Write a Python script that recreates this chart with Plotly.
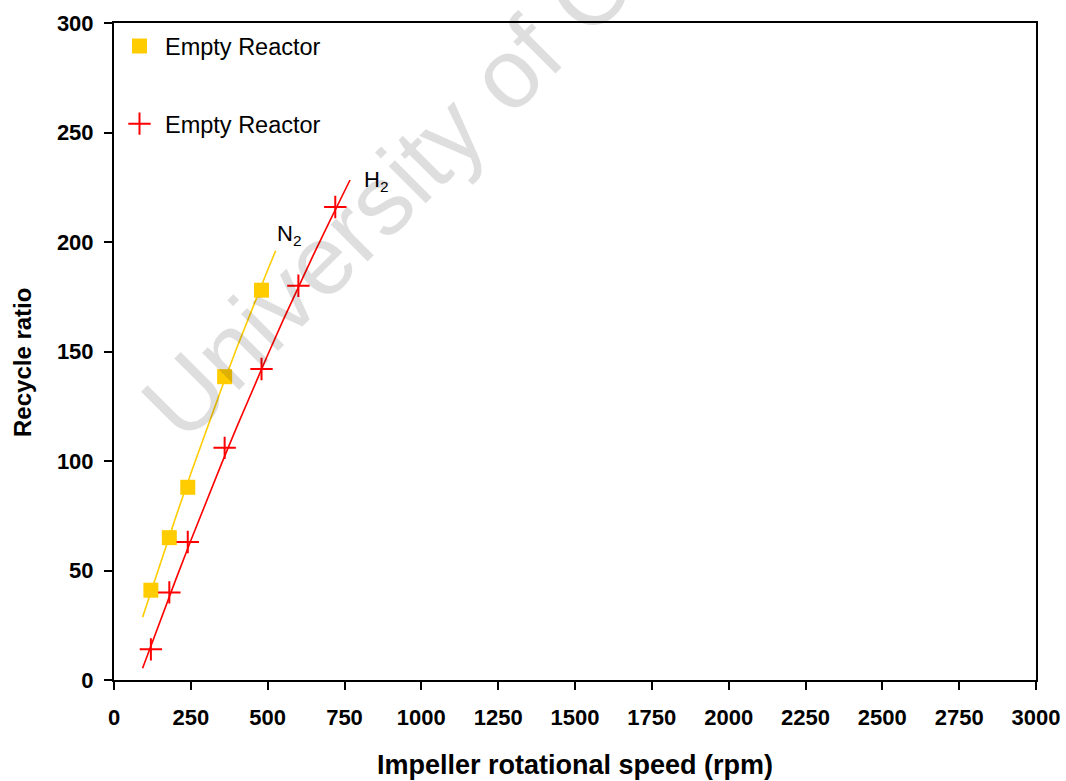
import plotly.graph_objects as go

# ---- data ----
n2_speed = [120, 180, 240, 360, 480]
n2_ratio = [41, 65, 88, 138.5, 178]

h2_speed = [120, 180, 240, 360, 480, 600, 720]
h2_ratio = [14, 40, 63, 106, 142, 180, 216]

# trend lines as drawn in the reference
n2_trend_x = [93, 150, 200, 250, 300, 350, 400, 450, 500, 526]
n2_trend_y = [28.6, 53.1, 74.0, 94.3, 114.0, 133.2, 151.8, 169.8, 187.2, 196.0]

h2_trend_x = [93, 150, 200, 250, 300, 350, 400, 450, 500, 550, 600, 650, 700, 768]
h2_trend_y = [5.4, 27.0, 45.5, 63.7, 81.4, 98.8, 115.7, 132.2, 148.4, 164.2, 179.5, 194.5, 209.0, 228.3]

x_ticks = list(range(0, 3001, 250))
y_ticks = list(range(0, 301, 50))

YELLOW = "#FFCC00"
RED = "#FF0000"
FONT = "Liberation Sans, Arial, sans-serif"

fig = go.Figure()

fig.add_trace(go.Scatter(x=n2_trend_x, y=n2_trend_y, mode="lines",
                         line=dict(color=YELLOW, width=1.6), showlegend=False, hoverinfo="skip"))
fig.add_trace(go.Scatter(x=h2_trend_x, y=h2_trend_y, mode="lines",
                         line=dict(color=RED, width=1.6), showlegend=False, hoverinfo="skip"))

fig.add_trace(go.Scatter(x=n2_speed, y=n2_ratio, mode="markers", name="Empty Reactor",
                         legendgroup="n2",
                         marker=dict(symbol="square", size=15, color=YELLOW)))
fig.add_trace(go.Scatter(x=h2_speed, y=h2_ratio, mode="markers", name="Empty Reactor",
                         legendgroup="h2",
                         marker=dict(symbol="cross-thin", size=16, color=RED,
                                     line=dict(color=RED, width=2))))

# watermark
fig.add_annotation(text="University of Cape Town", xref="paper", yref="paper",
                   x=0.4572, y=0.9679, xanchor="center", yanchor="middle",
                   textangle=-45, showarrow=False,
                   font=dict(family=FONT, size=99, color="rgba(0,0,0,0.13)"))

# series labels
fig.add_annotation(text="N<sub>2</sub>", x=524, y=203, xanchor="left", yanchor="middle",
                   showarrow=False, font=dict(family=FONT, size=22, color="black"))
fig.add_annotation(text="H<sub>2</sub>", x=807, y=228, xanchor="left", yanchor="middle",
                   showarrow=False, font=dict(family=FONT, size=22, color="black"))

# y axis title (placed as in the reference)
fig.add_annotation(text="<b>Recycle ratio</b>", xref="paper", yref="paper",
                   x=-0.0998, y=0.484, xanchor="center", yanchor="middle",
                   textangle=-90, showarrow=False,
                   font=dict(family=FONT, size=24, color="black"))

axis_common = dict(showgrid=False, zeroline=False, showline=True, linecolor="black",
                   linewidth=2, mirror=True, ticks="outside", ticklen=8, tickwidth=2,
                   tickcolor="black", automargin=False,
                   tickfont=dict(family=FONT, size=22, color="black", weight="bold"))

fig.update_xaxes(range=[0, 3000], tickvals=x_ticks, ticktext=[str(v) for v in x_ticks],
                 ticklabelstandoff=9,
                 title=dict(text="<b>Impeller rotational speed (rpm)</b>", standoff=26,
                            font=dict(family=FONT, size=27, color="black")),
                 **axis_common)
fig.update_yaxes(range=[0, 300], tickvals=y_ticks, ticktext=[str(v) for v in y_ticks],
                 ticklabelstandoff=6,
                 **axis_common)

fig.update_layout(
    width=1066, height=781,
    margin=dict(l=114, r=30, t=23, b=101, autoexpand=False),
    plot_bgcolor="white", paper_bgcolor="white",
    showlegend=True,
    legend=dict(x=0.0, y=0.998, xanchor="left", yanchor="top", itemwidth=41,
                bgcolor="rgba(0,0,0,0)", traceorder="grouped", tracegroupgap=44,
                font=dict(family=FONT, size=23.5, color="black")),
)

fig.write_html("out.html")
